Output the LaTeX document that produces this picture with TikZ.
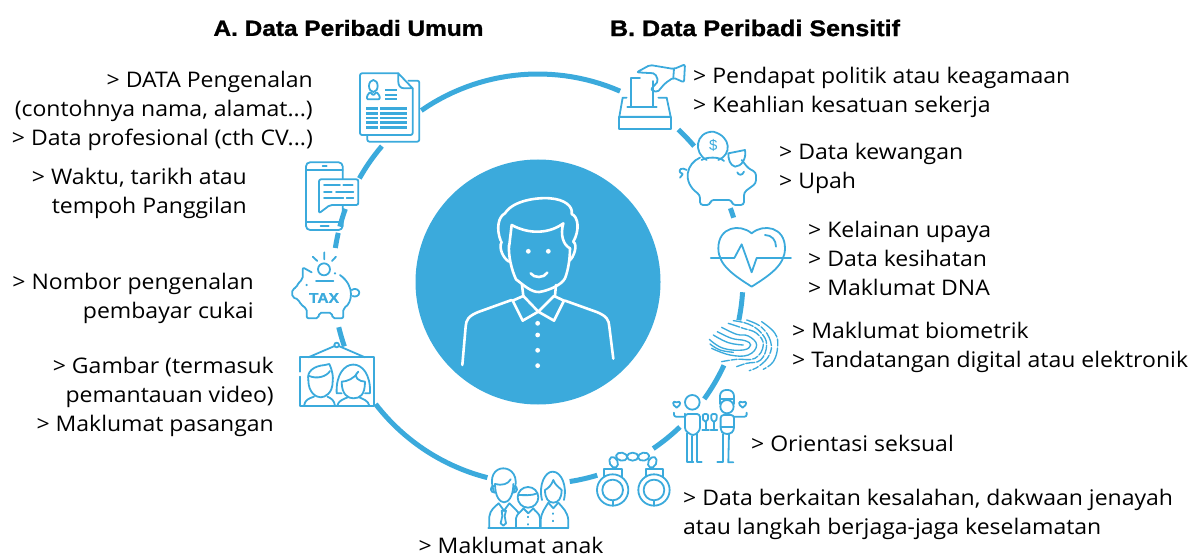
\documentclass[tikz,border=0pt]{standalone}
\usepackage{fontspec}
\setmainfont[FakeStretch=1.07]{Open Sans}
\newfontfamily\titlefont[BoldFeatures={FakeStretch=1.11,FakeBold=1.2}]{Liberation Sans}
\definecolor{bluec}{HTML}{3BAADC}
\tikzset{
 zoomed/.style 2 args={shift={(#1,#2)},x=0.3333pt,y=-0.3333pt},
 icon/.style={draw=bluec,line width=1.8pt,line cap=round,line join=round},
 ridge/.style={draw=bluec,line width=1.35pt,line cap=round},
 wline/.style={draw=white,line width=2.6pt,line cap=round,line join=round},
 ringseg/.style={draw=bluec,line width=5pt},
 bodytext/.style={font=\fontsize{21.5}{29}\selectfont,inner sep=0pt},
 lefttext/.style={bodytext,anchor=east,align=right},
 righttext/.style={bodytext,anchor=west,align=left},
 titletext/.style={font=\titlefont\bfseries\fontsize{22}{26}\selectfont,inner sep=0pt},
}
\newcommand{\ringarc}[2]{\draw[ringseg] plot[domain=#1:#2,samples=30] ({538+205*cos(\x)},{279+205*sin(\x)});}
\newcommand{\tinyheart}[2]{\draw[shift={(#1,#2)}] (0,11) .. controls (-16,2) and (-12,-12) .. (0,-5) .. controls (12,-12) and (16,2) .. (0,11) -- cycle;}
\begin{document}
\begin{tikzpicture}[x=1pt,y=-1pt]
\useasboundingbox (0,0) rectangle (1192,556);
% ring
\ringarc{235.3}{293.6}\ringarc{313.2}{319.6}\ringarc{339.8}{342.6}\ringarc{3.7}{11.6}
\ringarc{24.9}{35.8}\ringarc{46.2}{55.8}\ringarc{73.2}{81.1}\ringarc{104.3}{142.4}
\ringarc{160.8}{166.4}\ringarc{188.7}{193}\ringarc{194.8}{200}\ringarc{209.4}{220.4}
% centre
\node[circle,fill=bluec,minimum size=245pt,inner sep=0pt] (centre) at (538,282) {};
\begin{scope}[zoomed={410}{170}]
\draw[wline] (272,212) .. controls (258,175) and (265,140) .. (285,130) .. controls (310,90) and (385,82) .. (420,85) .. controls (465,88) and (490,110) .. (485,132) .. controls (505,140) and (510,180) .. (490,215);
\draw[wline] (298,225) -- (305,165) .. controls (360,195) and (420,190) .. (460,160) .. controls (450,195) and (460,225) .. (480,235);
\draw[wline] (297,225) .. controls (295,260) and (305,300) .. (318,328) .. controls (340,345) and (365,368) .. (388,366) .. controls (415,362) and (455,345) .. (465,325) .. controls (475,300) and (480,265) .. (480,235);
\draw[wline] (275,215) .. controls (265,235) and (280,265) .. (297,275);
\draw[wline] (490,215) .. controls (505,225) and (490,265) .. (478,272);
\draw[wline] (336,345) -- (340,378);
\draw[wline] (438,345) -- (435,378);
\draw[wline] (340,378) -- (385,425) -- (338,452) -- (308,392) -- cycle;
\draw[wline] (432,378) -- (385,425) -- (432,452) -- (462,392) -- cycle;
\draw[wline] (305,390) -- (205,426) .. controls (175,438) and (168,450) .. (167,470) -- (157,585);
\draw[wline] (465,392) -- (560,426) .. controls (590,438) and (597,450) .. (598,470) -- (610,566);
\draw[wline] (362,310) .. controls (372,325) and (402,325) .. (412,308);
\foreach \p in {(355,244),(415,244),(383,460),(383,495),(383,541),(383,587)} \fill[white] \p circle[radius=2.4pt];
\end{scope}
% document and phone
\begin{scope}[zoomed={280}{60},icon]
\draw[rounded corners=2pt] (355,40) -- (240,40) -- (240,225) -- (398,225) -- (398,85);
\draw (355,40) -- (398,85) -- (372,85) .. controls (360,85) and (355,75) .. (355,65) -- cycle;
\draw[rounded corners=2pt] (385,62) -- (418,62) -- (418,245) -- (262,245) -- (262,225);
\draw (280,78) ellipse[x radius=13,y radius=18];
\draw[rounded corners=1pt] (261,118) -- (261,108) -- (270,96) -- (280,106) -- (290,96) -- (299,108) -- (299,118) -- cycle;
\foreach \y in {90,105,118} \draw[line width=2.1pt,line cap=butt] (315,\y) -- (352,\y);
\foreach \y in {146,160,174,188,202} {\draw[line width=2.4pt,line cap=butt] (258,\y) -- (295,\y);\draw[line width=2.4pt,line cap=butt] (300,\y) -- (382,\y);}
\draw[rounded corners=4pt] (78,307) rectangle (188,510);
\draw (78,330) -- (188,330);
\draw (78,485) -- (188,485);
\draw (128,318) -- (140,318);
\draw (122,498) -- (146,498);
\draw[fill=white,rounded corners=2pt] (117,358) -- (235,358) -- (235,435) -- (150,435) -- (117,460) -- cycle;
\draw (132,376) -- (180,376) (190,376) -- (218,376);
\draw (132,395) -- (155,395) (168,395) -- (220,395);
\draw (132,415) -- (190,415) (200,415) -- (220,415);
\end{scope}
% tax pig
\begin{scope}[zoomed={280}{240},icon]
\draw (132,88) circle[radius=18];
\draw (133,37) -- (133,58) (98,50) -- (112,63) (168,50) -- (156,63);
\draw (108,122) -- (160,122);
\draw[rounded corners=2pt] (95,97) -- (68,82) -- (68,118) .. controls (58,125) and (52,135) .. (50,143) -- (37,147) -- (37,172) -- (55,178) .. controls (60,190) and (70,200) .. (80,205) -- (80,235) -- (115,235) -- (118,218) -- (155,218) -- (158,235) -- (190,235) -- (190,205) .. controls (215,190) and (228,140) .. (180,105);
\draw (215,150) .. controls (225,142) and (238,150) .. (238,158) .. controls (238,168) and (225,172) .. (218,168);
\fill[bluec] (80,135) circle[radius=1.2pt] (165,100) circle[radius=1.2pt];
\node[inner sep=0pt,text=bluec,font=\titlefont\bfseries\fontsize{14}{14}\selectfont] (taxlabel) at (132,174) {TAX};
\end{scope}
% framed picture
\begin{scope}[zoomed={280}{240},icon]
\draw (60,395) -- (60,352) -- (282,352) -- (282,497) -- (60,497) -- (60,410);
\draw (85,352) -- (164,318) (176,318) -- (255,352);
\draw (170,315) circle[radius=7];
\draw (85,420) .. controls (80,395) and (100,378) .. (135,375) -- (148,372) .. controls (158,395) and (160,410) .. (158,425);
\draw (85,420) .. controls (85,460) and (110,472) .. (122,472) .. controls (135,472) and (158,460) .. (158,425);
\draw (88,408) .. controls (110,418) and (140,410) .. (150,393);
\draw (72,497) .. controls (75,480) and (85,476) .. (102,470) (165,497) .. controls (162,480) and (155,476) .. (142,470);
\draw (185,460) -- (170,460) .. controls (165,345) and (275,345) .. (270,460) -- (255,460);
\draw (185,425) .. controls (185,465) and (205,475) .. (220,475) .. controls (240,475) and (255,465) .. (255,425) .. controls (240,425) and (215,412) .. (235,395) .. controls (225,415) and (200,425) .. (185,425);
\draw (172,497) .. controls (175,482) and (190,478) .. (203,472) (268,497) .. controls (265,482) and (250,478) .. (238,472);
\end{scope}
% ballot
\begin{scope}[zoomed={600}{55},icon]
\draw (82,155) -- (170,155);
\draw (80,128) -- (68,128) -- (58,185) -- (212,185) -- (200,128) -- (175,128);
\draw (58,185) rectangle (212,222);
\draw (92,155) -- (92,68) -- (120,68);
\draw (160,155) -- (160,78);
\draw[rounded corners=2pt] (110,52) -- (150,30) -- (222,42) -- (255,28) -- (252,82) -- (220,68) -- (195,85) -- (172,112) -- (152,104) -- (175,78) -- (165,55) -- cycle;
\draw (222,42) -- (220,68);
\end{scope}
% piggy bank
\begin{scope}[zoomed={600}{55},icon]
\draw (355,315) .. controls (395,300) and (395,245) .. (340,230) .. controls (285,230) and (280,295) .. (320,315);
\draw (305,315) .. controls (320,305) and (360,305) .. (372,318);
\node[inner sep=0pt,text=bluec,font=\titlefont\fontsize{15}{15}\selectfont] (dollar) at (340,272) {\$};
\draw[rounded corners=3pt] (300,308) .. controls (260,325) and (245,380) .. (300,420) -- (300,450) -- (330,450) -- (332,435) -- (395,435) -- (397,450) -- (432,450) -- (432,412) -- (468,385) -- (468,352) -- (445,340) -- (425,315);
\draw (385,295) -- (435,285) .. controls (440,310) and (425,335) .. (405,335) .. controls (390,330) and (385,315) .. (385,295) -- cycle;
\draw (260,345) .. controls (245,335) and (235,345) .. (240,352) .. controls (245,360) and (255,350) .. (240,368);
\draw (412,352) .. controls (415,362) and (428,362) .. (432,350);
\end{scope}
% heart
\begin{scope}[zoomed={690}{215},icon]
\draw (185,55) .. controls (150,25) and (85,35) .. (85,100) .. controls (85,150) and (130,180) .. (185,215) .. controls (240,180) and (285,150) .. (285,100) .. controls (285,35) and (220,25) .. (185,55) -- cycle;
\draw (62,129) -- (133,129) -- (155,88) -- (185,172) -- (200,129) -- (303,129);
\draw (225,60) .. controls (245,60) and (258,75) .. (258,95);
\end{scope}
% fingerprint
\begin{scope}[zoomed={480}{300},ridge]
\draw plot[smooth,tension=.7] coordinates {(688,118) (730,145) (790,150) (812,135) (795,122) (755,115) (712,95)};
\draw plot[smooth,tension=.7] coordinates {(700,105) (745,128) (790,135)};
\draw plot[smooth,tension=.7] coordinates {(725,82) (770,103) (805,108) (830,135) (805,165) (750,165) (695,145)};
\draw plot[smooth,tension=.7] coordinates {(690,132) (720,150) (760,157)};
\draw[dash pattern=on 12pt off 1.8pt on 6pt off 1.8pt] plot[smooth,tension=.7] coordinates {(745,70) (790,85) (830,100) (850,135) (825,175) (770,178) (725,185)};
\draw[dash pattern=on 9pt off 1.8pt on 10pt off 1.8pt] plot[smooth,tension=.7] coordinates {(760,62) (805,72) (843,98) (860,135) (842,180) (800,190) (770,200)};
\draw[dash pattern=on 14pt off 2pt on 6pt off 2pt] plot[smooth,tension=.7] coordinates {(800,60) (845,82) (872,125) (868,165) (838,198) (808,212)};
\draw[dash pattern=on 22pt off 2pt on 7pt off 2pt] plot[smooth,tension=.7] coordinates {(845,65) (885,100) (893,140) (880,185) (850,208)};
\end{scope}
% couple
\begin{scope}[zoomed={480}{300},icon]
\draw (637,307) circle[radius=22];
\tinyheart{590}{312}
\tinyheart{788}{312}
\draw[rounded corners=2pt] (615,350) -- (582,350) -- (582,338);
\draw[rounded corners=3pt] (615,350) -- (615,342) -- (660,342) -- (660,392) -- (640,408) -- (615,392) -- cycle;
\draw (622,400) -- (622,487) -- (640,487) (637,408) -- (637,487);
\draw (650,402) -- (650,487) -- (665,487);
\draw[rounded corners=2pt] (668,342) -- (685,342) -- (683,365) -- (670,365) -- cycle;
\draw (677,365) -- (677,390) (667,390) -- (687,390);
\draw[rounded corners=2pt] (693,342) -- (711,342) -- (709,365) -- (695,365) -- cycle;
\draw (702,365) -- (702,390) (692,390) -- (712,390);
\draw[rounded corners=6pt] (720,312) -- (720,270) -- (762,270) -- (762,312);
\draw (722,296) -- (760,296);
\draw (741,320) circle[radius=20];
\draw[rounded corners=3pt] (722,345) -- (762,345) -- (762,392) -- (750,402) -- (732,402) -- (722,392) -- cycle;
\draw (722,380) -- (762,380);
\draw[rounded corners=2pt] (762,350) -- (800,350) -- (800,338);
\draw (730,402) -- (730,487) -- (712,487);
\draw (747,402) -- (745,487) -- (760,487);
\end{scope}
% cuffs and family
\begin{scope}[zoomed={480}{380},icon]
\draw (398,330) circle[radius=47] (398,330) circle[radius=31];
\draw (522,330) circle[radius=47] (522,330) circle[radius=31];
\draw (398,361) -- (398,377) (522,361) -- (522,377);
\draw (372,290) -- (372,266) -- (425,266) -- (425,290) (497,290) -- (497,266) -- (550,266) -- (550,290);
\foreach \x/\y/\a in {401/247/-65,425/230/-10,458/230/0,491/230/10,517/247/65} \draw[rotate around={\a:(\x,\y)}] (\x,\y) ellipse[x radius=17,y radius=12];
% family
\draw (25,443) -- (265,443);
\draw (45,312) .. controls (45,350) and (60,367) .. (72,367) .. controls (85,367) and (100,350) .. (100,312);
\draw (42,335) .. controls (25,290) and (45,265) .. (70,265) .. controls (95,265) and (118,290) .. (102,335);
\draw (45,312) .. controls (65,318) and (85,312) .. (92,298);
\draw (42,318) .. controls (28,320) and (30,338) .. (45,338) (103,318) .. controls (115,320) and (113,338) .. (100,338);
\draw (28,443) -- (28,410) .. controls (30,390) and (45,380) .. (56,370) -- (72,392) -- (88,370) .. controls (98,380) and (105,385) .. (115,398);
\draw (65,392) -- (78,392) -- (74,408) -- (78,430) -- (70,437) -- (62,430) -- (67,408) -- cycle;
\draw (144,352) ellipse[x radius=31,y radius=31];
\draw (115,345) .. controls (130,345) and (155,348) .. (172,340);
\draw (108,443) -- (108,415) .. controls (110,400) and (125,395) .. (130,385) -- (145,400) -- (160,385) .. controls (165,395) and (180,400) .. (180,415) -- (180,443);
\draw (145,410) -- (145,412) (145,432) -- (145,434);
\draw (186,360) .. controls (175,315) and (195,275) .. (218,275) .. controls (245,275) and (262,320) .. (252,360);
\draw (195,330) .. controls (195,355) and (205,368) .. (220,368) .. controls (235,368) and (245,355) .. (245,330) .. controls (235,320) and (225,315) .. (220,300) .. controls (215,315) and (205,325) .. (195,330) -- cycle;
\draw (182,443) -- (182,420) .. controls (185,395) and (195,385) .. (205,368) -- (220,385) -- (235,368) .. controls (250,385) and (262,395) .. (265,420) -- (265,443);
\draw (220,400) -- (220,402) (220,422) -- (220,424);
\end{scope}
% titles
\node[titletext] (titleA) at (348.5,28) {A. Data Peribadi Umum};
\node[titletext,font=\titlefont\bfseries\fontsize{22.6}{26}\selectfont] (titleB) at (755,28) {B. Data Peribadi Sensitif};
% texts
\node[lefttext] (t1) at (313,110.5) {> DATA Pengenalan\\(contohnya nama, alamat...)\\> Data profesional (cth CV...)};
\node[lefttext] (t2) at (247,193) {> Waktu, tarikh atau\\tempoh Panggilan};
\node[lefttext] (t3) at (254,298.5) {> Nombor pengenalan\\pembayar cukai};
\node[lefttext] (t4) at (274,397) {> Gambar (termasuk\\pemantauan video)\\> Maklumat pasangan};
\node[bodytext,anchor=center] (t5) at (511,545) {> Maklumat anak};
\node[righttext] (r1) at (693,92.5) {> Pendapat politik atau keagamaan\\> Keahlian kesatuan sekerja};
\node[righttext] (r2) at (779,168) {> Data kewangan\\> Upah};
\node[righttext] (r3) at (808,258) {> Kelainan upaya\\> Data kesihatan\\> Maklumat DNA};
\node[righttext] (r4) at (792,347) {> Maklumat biometrik\\> Tandatangan digital atau elektronik};
\node[righttext] (r5) at (751,443) {> Orientasi seksual};
\node[righttext] (r6) at (683,514) {> Data berkaitan kesalahan, dakwaan jenayah\\atau langkah berjaga-jaga keselamatan};
\end{tikzpicture}
\end{document}
